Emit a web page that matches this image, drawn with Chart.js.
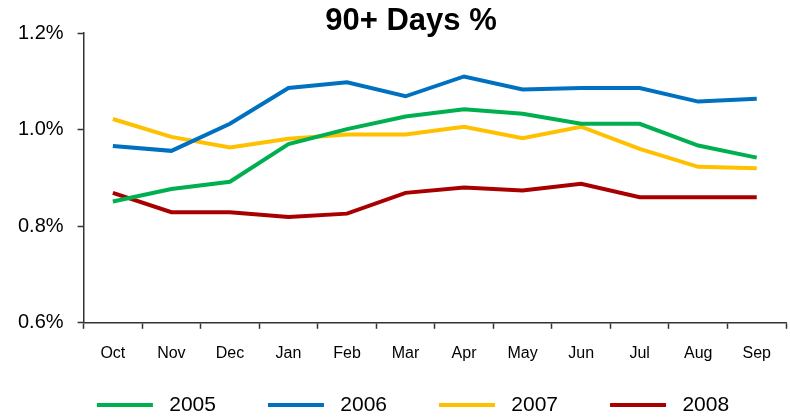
<!DOCTYPE html>
<html>
<head>
<meta charset="utf-8">
<script src="https://cdn.jsdelivr.net/npm/chart.js@4"></script>
<style>
  html, body { margin: 0; padding: 0; background: #fff; }
  #wrap { width: 790px; height: 418px; }
</style>
</head>
<body>
<div id="wrap"><canvas id="daysChart"></canvas></div>
<script>
const months = ['Oct', 'Nov', 'Dec', 'Jan', 'Feb', 'Mar', 'Apr', 'May', 'Jun', 'Jul', 'Aug', 'Sep'];
const yearLabels = ['2005', '2006', '2007', '2008'];
const yTicks = [0.6, 0.8, 1.0, 1.2];

const values2005 = [0.851, 0.877, 0.892, 0.970, 1.001, 1.027, 1.042, 1.033, 1.012, 1.012, 0.967, 0.942];
const values2006 = [0.966, 0.956, 1.012, 1.086, 1.098, 1.069, 1.110, 1.083, 1.086, 1.086, 1.058, 1.064];
const values2007 = [1.022, 0.985, 0.963, 0.981, 0.990, 0.990, 1.006, 0.982, 1.006, 0.960, 0.923, 0.920];
const values2008 = [0.869, 0.829, 0.829, 0.819, 0.826, 0.869, 0.880, 0.874, 0.888, 0.860, 0.860, 0.860];

const seriesColors = ['#00B050', '#0070C0', '#FFC000', '#A80000'];
const seriesValues = [values2005, values2006, values2007, values2008];

// title and legend sit a bit right of the canvas centre, legend row lower down
const boxNudge = {
    id: 'boxNudge',
    afterLayout(chart) {
        const t = chart.titleBlock;
        t.left += 16;
        t.right += 16;

        const lg = chart.legend;
        const opts = lg.options.labels;
        lg.top = 405 - opts.padding - opts.font.size / 2;
        lg.bottom = chart.height;
        lg.left += 18;
        lg.right += 18;
    }
};

const ctx = document.getElementById('daysChart').getContext('2d');

new Chart(ctx, {
    type: 'line',
    data: {
        labels: months,
        datasets: yearLabels.map((year, i) => ({
            label: year,
            data: seriesValues[i],
            borderColor: seriesColors[i],
            backgroundColor: seriesColors[i],
            borderWidth: 4,
            pointRadius: 0,
            tension: 0,
            fill: false
        }))
    },
    plugins: [boxNudge],
    options: {
        responsive: true,
        maintainAspectRatio: false,
        animation: false,
        layout: {
            padding: { left: 4, right: 4, top: 0, bottom: 0 }
        },
        plugins: {
            title: {
                display: true,
                text: '90+ Days %',
                color: '#000',
                font: { family: 'Liberation Sans, Arial, sans-serif', size: 31, weight: 'bold', lineHeight: 1 },
                padding: { top: 6, bottom: -4 }
            },
            legend: {
                position: 'bottom',
                maxHeight: 40,
                labels: {
                    boxWidth: 56,
                    boxHeight: 4,
                    padding: 52,
                    color: '#000',
                    font: { family: 'Liberation Sans, Arial, sans-serif', size: 21 },
                    generateLabels: chart => Chart.defaults.plugins.legend.labels.generateLabels(chart)
                        .map(item => ({ ...item, text: ' ' + item.text, lineWidth: 0 }))
                }
            },
            tooltip: { enabled: false }
        },
        scales: {
            x: {
                offset: true,
                border: { color: '#333', width: 1.5 },
                grid: {
                    offset: true,
                    drawOnChartArea: false,
                    tickLength: 6,
                    tickColor: '#333',
                    tickWidth: 1.5
                },
                ticks: {
                    color: '#000',
                    padding: 15,
                    maxRotation: 0,
                    font: { family: 'Liberation Sans, Arial, sans-serif', size: 16 }
                }
            },
            y: {
                min: 0.6,
                max: 1.2,
                afterBuildTicks: axis => {
                    axis.ticks = yTicks.map(v => ({ value: v }));
                },
                border: { color: '#333', width: 1.5 },
                grid: {
                    drawOnChartArea: false,
                    tickLength: 6,
                    tickColor: '#333',
                    tickWidth: 1.5
                },
                ticks: {
                    color: '#000',
                    padding: 14,
                    font: { family: 'Liberation Sans, Arial, sans-serif', size: 20 },
                    callback: value => value.toFixed(1) + '%'
                }
            }
        }
    }
});
</script>
</body>
</html>
